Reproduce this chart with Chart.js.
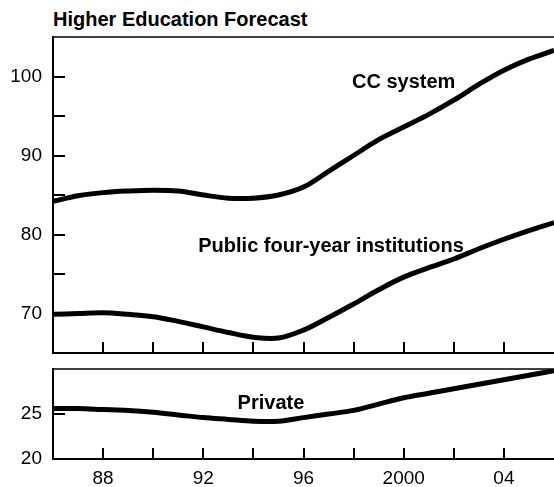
<!DOCTYPE html>
<html>
<head>
<meta charset="utf-8">
<script src="https://cdn.jsdelivr.net/npm/chart.js@4.4.0/dist/chart.umd.min.js"></script>
<style>
  html, body { margin: 0; padding: 0; background: #fff; }
  #wrap { position: relative; width: 554px; height: 487px; overflow: hidden; }
  #title { position: absolute; left: 53px; top: 8px; font: bold 20px "Liberation Sans", Arial, sans-serif; color: #000; white-space: nowrap; }
  #topBox { position: absolute; left: 0; top: 0; width: 554px; height: 360px; }
  #botBox { position: absolute; left: 0; top: 360px; width: 554px; height: 127px; }
</style>
</head>
<body>
<div id="wrap">
  <div id="title">Higher Education Forecast</div>
  <div id="topBox"><canvas id="topChart"></canvas></div>
  <div id="botBox"><canvas id="botChart"></canvas></div>
</div>
<script>
// 数据
const years = [1986, 1987, 1988, 1989, 1990, 1991, 1992, 1993, 1994, 1995, 1996,
               1997, 1998, 1999, 2000, 2001, 2002, 2003, 2004, 2005, 2006]
const ccSystem    = [84.2, 84.9, 85.3, 85.5, 85.6, 85.5, 85.0, 84.6, 84.6, 85.0, 86.0,
                     88.0, 90.0, 92.0, 93.6, 95.2, 97.0, 99.0, 100.8, 102.2, 103.3]
const publicFour  = [69.9, 70.0, 70.1, 69.9, 69.6, 69.0, 68.3, 67.6, 67.0, 66.9, 67.9,
                     69.5, 71.2, 73.0, 74.6, 75.8, 76.9, 78.2, 79.4, 80.5, 81.5]
const privateInst = [25.6, 25.6, 25.5, 25.4, 25.2, 24.9, 24.6, 24.4, 24.2, 24.2, 24.6,
                     25.0, 25.4, 26.1, 26.8, 27.3, 27.8, 28.3, 28.8, 29.3, 29.8]

const xLabelYears = [1988, 1992, 1996, 2000, 2004]
const xLabelText  = ['88', '92', '96', '2000', '04']
const xMarkYears  = [1988, 1990, 1992, 1994, 1996, 1998, 2000, 2002, 2004]
const topLabels   = [70, 80, 90, 100]
const topMarks    = [70, 75, 80, 85, 90, 95, 100]
const botLabels   = [20, 25]
const botMarks    = [25]

const topNotes = [
    { text: 'CC system', x: 2000, y: 99.2 },
    { text: 'Public four-year institutions', x: 1997.1, y: 78.5 },
]
const botNotes = [
    { text: 'Private', x: 1994.7, y: 26.2 },
]

const FONT = '"Liberation Sans", Arial, sans-serif'

// 内向刻度 + 顶部边线
const innerTicks = {
    id: 'innerTicks',
    afterDatasetsDraw(chart, args, opts) {
        const { ctx, scales: { x, y } } = chart
        ctx.save()
        ctx.strokeStyle = '#000'
        ctx.lineWidth = 2
        ctx.beginPath()
        opts.yMarks.forEach(v => {
            const py = Math.round(y.getPixelForValue(v))
            ctx.moveTo(x.left, py)
            ctx.lineTo(x.left + 12, py)
        })
        opts.xMarks.forEach(v => {
            const px = Math.round(x.getPixelForValue(v))
            ctx.moveTo(px, y.bottom)
            ctx.lineTo(px, y.bottom - 11)
        })
        ctx.stroke()
        ctx.lineWidth = 1.5
        ctx.beginPath()
        ctx.moveTo(x.left, y.top)
        ctx.lineTo(x.right, y.top)
        ctx.stroke()
        ctx.restore()
    }
}

// 曲线注释文字
const notes = {
    id: 'notes',
    afterDatasetsDraw(chart, args, opts) {
        const { ctx, scales: { x, y } } = chart
        ctx.save()
        ctx.fillStyle = '#000'
        ctx.font = 'bold 20px ' + FONT
        ctx.textAlign = 'center'
        ctx.textBaseline = 'middle'
        opts.items.forEach(n => {
            ctx.fillText(n.text, x.getPixelForValue(n.x), y.getPixelForValue(n.y))
        })
        ctx.restore()
    }
}

function lineSet(values) {
    return {
        data: years.map((yr, i) => ({ x: yr, y: values[i] })),
        borderColor: '#000',
        borderWidth: 5,
        pointRadius: 0,
        tension: 0.35,
        fill: false,
    }
}

function noPad(s) {
    s.paddingTop = 0
    s.paddingBottom = 0
    s.paddingLeft = 0
    s.paddingRight = 0
}

function makeOptions(cfg) {
    return {
        responsive: true,
        maintainAspectRatio: false,
        animation: false,
        layout: { padding: { top: cfg.padTop, left: 0, right: 0, bottom: 0 } },
        plugins: {
            legend: { display: false },
            tooltip: { enabled: false },
            innerTicks: { yMarks: cfg.yMarks, xMarks: xMarkYears },
            notes: { items: cfg.notes },
        },
        scales: {
            x: {
                type: 'linear',
                min: 1986,
                max: 2006,
                afterBuildTicks: s => { s.ticks = xLabelYears.map(v => ({ value: v })) },
                afterFit: s => { s.height = cfg.xHeight; noPad(s) },
                grid: { display: false, drawTicks: false },
                border: { display: true, color: '#000', width: 2 },
                ticks: {
                    display: cfg.xLabels,
                    autoSkip: false,
                    maxRotation: 0,
                    padding: 8,
                    color: '#000',
                    font: { family: FONT, size: 19 },
                    callback: v => xLabelText[xLabelYears.indexOf(v)] ?? '',
                },
            },
            y: {
                min: cfg.yMin,
                max: cfg.yMax,
                afterBuildTicks: s => { s.ticks = cfg.yLabels.map(v => ({ value: v })) },
                afterFit: s => { s.width = 53; noPad(s) },
                grid: { display: false, drawTicks: false },
                border: { display: true, color: '#000', width: 2 },
                ticks: {
                    padding: 11,
                    color: '#000',
                    font: { family: FONT, size: 19 },
                },
            },
        },
    }
}

new Chart(document.getElementById('topChart'), {
    type: 'line',
    data: { datasets: [lineSet(ccSystem), lineSet(publicFour)] },
    options: makeOptions({
        padTop: 37, xHeight: 7, xLabels: false,
        yMin: 65, yMax: 105, yLabels: topLabels, yMarks: topMarks, notes: topNotes,
    }),
    plugins: [innerTicks, notes],
})

new Chart(document.getElementById('botChart'), {
    type: 'line',
    data: { datasets: [lineSet(privateInst)] },
    options: makeOptions({
        padTop: 9, xHeight: 28, xLabels: true,
        yMin: 20, yMax: 30, yLabels: botLabels, yMarks: botMarks, notes: botNotes,
    }),
    plugins: [innerTicks, notes],
})
</script>
</body>
</html>
